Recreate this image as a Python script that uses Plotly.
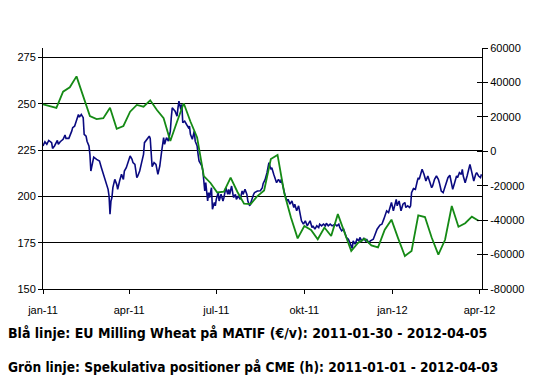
import pandas as pd
import plotly.graph_objects as go

# ---- data ----
# Blue: EU Milling Wheat on MATIF (EUR/t), day offsets from 2011-01-01
blue_days = [
    0, 2, 4, 6, 9, 10, 12, 15, 16, 18,
    21, 23, 24, 27, 30, 31, 33, 35, 37, 38,
    40, 42, 43, 45, 46, 48, 49, 50, 52, 53,
    56, 59, 61, 64, 66, 68, 69, 70, 71, 72,
    73, 75, 77, 78, 80, 82, 84, 85, 87, 89,
    91, 93, 94, 96, 98, 99, 101, 103, 105, 106,
    108, 111, 112, 113, 114, 116, 118, 120, 122, 124,
    126, 127, 129, 131, 133, 134, 135, 138, 140, 141,
    142, 144, 145, 146, 148, 150, 152, 153, 154, 156,
    158, 159, 161, 162, 163, 166, 167, 169, 170, 172,
    173, 174, 176, 177, 179, 180, 181, 183, 184, 186,
    188, 189, 191, 193, 194, 195, 197, 199, 201, 202,
    204, 206, 208, 209, 211, 213, 214, 216, 218, 220,
    221, 224, 227, 229, 230, 232, 234, 235, 236, 238,
    239, 241, 242, 244, 246, 248, 249, 251, 253, 255,
    256, 258, 260, 262, 263, 265, 267, 269, 270, 272,
    274, 276, 277, 279, 281, 282, 284, 286, 288, 289,
    291, 293, 295, 296, 298, 300, 302, 303, 305, 307,
    309, 310, 312, 314, 316, 317, 319, 321, 323, 324,
    326, 328, 330, 331, 333, 335, 337, 338, 340, 342,
    345, 347, 349, 352, 354, 356, 358, 359, 361, 363,
    364, 366, 368, 369, 370, 372, 374, 376, 378, 379,
    381, 383, 384, 385, 387, 389, 391, 392, 393, 395,
    396, 398, 400, 402, 404, 406, 407, 409, 411, 413,
    414, 416, 418, 419, 421, 423, 425, 426, 428, 430,
    432, 433, 435, 437, 438, 439, 441, 443, 445, 446,
    448, 450, 452, 453, 455, 457, 458,
]
blue_values = [
    227.2, 229.5, 228.1, 230.2, 229.0, 225.9, 227.2, 230.2, 228.1, 229.5,
    230.8, 233.1, 231.3, 231.3, 235.2, 237.1, 237.9, 240.6, 244.2, 242.8,
    244.2, 242.5, 233.5, 232.5, 229.8, 227.2, 222.7, 213.7, 219.1, 221.2,
    220.0, 219.1, 215.5, 211.0, 207.4, 203.8, 200.2, 190.4, 197.5, 199.4,
    204.7, 209.2, 206.5, 203.8, 208.3, 211.9, 209.2, 213.7, 215.5, 218.2,
    221.8, 220.0, 218.2, 217.3, 210.1, 211.0, 213.7, 218.2, 222.7, 229.0,
    230.2, 232.5, 231.3, 224.0, 216.0, 218.2, 217.3, 211.9, 216.4, 224.5,
    231.7, 228.1, 231.7, 229.8, 235.2, 242.5, 247.8, 246.0, 243.3, 247.8,
    251.4, 246.9, 249.6, 239.8, 240.6, 238.8, 237.1, 237.9, 233.5, 230.8,
    235.2, 229.8, 227.2, 222.7, 219.1, 216.4, 213.7, 202.9, 207.4, 197.5,
    202.0, 199.4, 204.7, 193.1, 196.7, 194.9, 198.4, 202.0, 197.5, 201.1,
    197.5, 199.4, 204.7, 201.1, 203.8, 201.1, 205.6, 199.4, 201.1, 198.4,
    200.2, 198.4, 202.9, 201.1, 203.8, 201.1, 197.5, 194.9, 198.4, 201.1,
    202.0, 202.9, 203.0, 204.5, 207.0, 209.0, 212.8, 216.4, 218.2, 214.6,
    215.5, 211.9, 210.1, 207.4, 209.2, 207.4, 209.2, 204.7, 200.2, 197.5,
    198.4, 195.8, 197.5, 194.0, 195.8, 192.2, 194.9, 189.5, 186.8, 185.0,
    186.8, 184.1, 185.0, 186.8, 183.2, 184.1, 182.3, 184.1, 183.2, 185.0,
    184.1, 185.0, 184.1, 185.5, 184.1, 185.0, 184.1, 184.5, 185.0, 184.1,
    185.0, 183.2, 181.4, 182.3, 179.6, 177.8, 176.9, 174.2, 171.9, 176.0,
    174.2, 176.9, 176.0, 177.8, 176.0, 177.3, 176.0, 176.9, 175.1, 176.0,
    176.9, 179.6, 182.3, 184.5, 185.0, 187.7, 190.4, 192.2, 191.3, 194.9,
    196.7, 192.2, 195.8, 198.4, 194.9, 197.5, 192.2, 195.8, 196.7, 194.0,
    194.9, 194.0, 194.9, 202.0, 204.2, 203.8, 208.3, 210.1, 209.2, 212.8,
    214.6, 211.9, 208.3, 211.0, 207.4, 204.7, 205.6, 209.2, 211.0, 209.2,
    207.4, 202.9, 202.0, 203.8, 207.4, 210.1, 211.4, 208.3, 203.8, 207.4,
    211.0, 210.1, 212.8, 211.9, 214.6, 211.0, 207.4, 211.0, 214.6, 217.3,
    212.8, 208.3, 211.9, 212.8, 211.0, 210.1, 211.9,
]

# Green: speculative positions on CME (contracts), weekly from 2011-01-01
green_start = "2011-01-01"
green_values = [
    27300, 26300, 25200, 34600, 37200, 43500, 31700, 20500, 18700, 19200,
    25300, 13100, 14700, 23000, 26900, 25900, 29600, 24000, 19200, 6000,
    17200, 27900, 17300, 8000, -14400, -18400, -23900, -23500, -15300, -23500,
    -30400, -30600, -26000, -22800, -4500, -2100, -24200, -38500, -50600, -43400,
    -45700, -51100, -44300, -49200, -36500, -46600, -57900, -53300, -50800, -54700,
    -55800, -45600, -39700, -50600, -60800, -57900, -37200, -38200, -50100, -60000,
    -51400, -31800, -43800, -41800, -38000, -40300,
]

x_tick_dates = ["2011-01-01", "2011-04-01", "2011-07-01", "2011-10-01", "2012-01-01", "2012-04-01"]
x_tick_text = ["jan-11", "apr-11", "jul-11", "okt-11", "jan-12", "apr-12"]
left_ticks = [150, 175, 200, 225, 250, 275]
right_ticks = [-80000, -60000, -40000, -20000, 0, 20000, 40000, 60000]
right_tick_text = [str(v) for v in right_ticks]

caption_1 = "Blå linje: EU Milling Wheat på MATIF (€/v): 2011-01-30 - 2012-04-05"
caption_2 = "Grön linje: Spekulativa positioner på CME (h): 2011-01-01 - 2012-04-03"

# ---- build ----
blue_dates = pd.Timestamp("2011-01-01") + pd.to_timedelta(blue_days, unit="D")
green_dates = pd.date_range(green_start, periods=len(green_values), freq="7D")

TICK_FONT = dict(family="Liberation Sans, Arial, sans-serif", size=11, color="black")

fig = go.Figure()
fig.add_trace(go.Scatter(x=blue_dates, y=blue_values, mode="lines",
                         line=dict(color="#0a0a80", width=1.6), yaxis="y"))
fig.add_trace(go.Scatter(x=green_dates, y=green_values, mode="lines",
                         line=dict(color="#158a15", width=1.8), yaxis="y2"))
# helper (empty) trace so the inner right-hand tick marks are drawn
fig.add_trace(go.Scatter(x=[], y=[], yaxis="y3", hoverinfo="skip"))

fig.update_layout(
    width=539, height=388,
    margin=dict(l=43, r=57, t=48, b=99),
    paper_bgcolor="white", plot_bgcolor="white",
    showlegend=False,
    xaxis=dict(type="date", range=["2011-01-01", "2012-04-03 14:00"],
               tickvals=x_tick_dates, ticktext=x_tick_text,
               ticks="outside", ticklen=4, tickcolor="black", tickwidth=1,
               showline=True, linecolor="black", linewidth=1,
               showgrid=False, zeroline=False, tickfont=TICK_FONT,
               ticklabelstandoff=7),
    yaxis=dict(range=[150, 280.1], tickvals=left_ticks,
               ticks="outside", ticklen=4, tickcolor="black", tickwidth=1,
               showline=True, linecolor="black", linewidth=1,
               showgrid=True, gridcolor="black", gridwidth=1,
               zeroline=False, tickfont=TICK_FONT),
    yaxis2=dict(range=[-80000, 60000], overlaying="y", side="right",
                tickvals=right_ticks, ticktext=right_tick_text,
                ticks="outside", ticklen=5, tickcolor="black", tickwidth=1,
                showline=True, linecolor="black", linewidth=1,
                showgrid=False, zeroline=False, tickfont=TICK_FONT),
    yaxis3=dict(range=[-80000, 60000], overlaying="y", side="right",
                tickvals=right_ticks, showticklabels=False,
                ticks="inside", ticklen=5, tickcolor="black", tickwidth=1,
                showline=False, showgrid=False, zeroline=False),
)

fig.add_annotation(text="<b>" + caption_1 + "</b>", xref="paper", yref="paper",
                   x=-0.084, y=-0.181, xanchor="left", yanchor="middle",
                   showarrow=False,
                   font=dict(family="DejaVu Sans Condensed, sans-serif", size=14, color="black"))
fig.add_annotation(text="<b>" + caption_2 + "</b>", xref="paper", yref="paper",
                   x=-0.084, y=-0.322, xanchor="left", yanchor="middle",
                   showarrow=False,
                   font=dict(family="DejaVu Sans Condensed, sans-serif", size=13.6, color="black"))

fig.write_html("out.html", config={"displayModeBar": False},
               post_script="document.body.style.margin='0px';")
